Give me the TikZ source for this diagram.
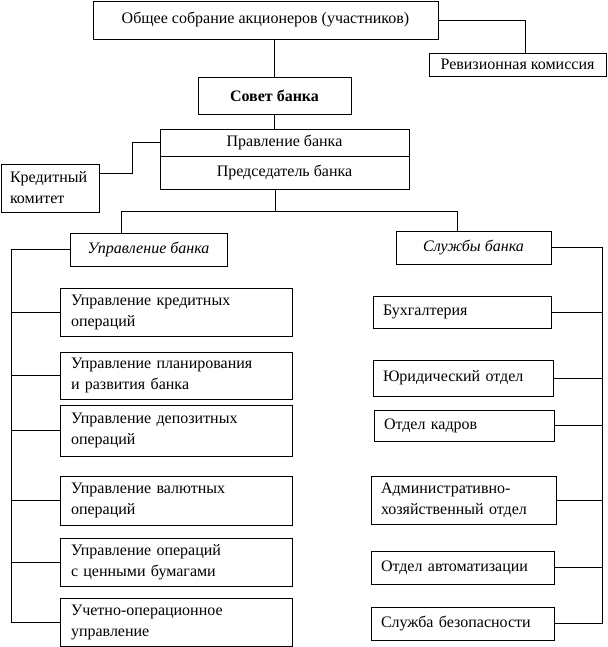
\documentclass[tikz,border=0pt]{standalone}
\usepackage{fontspec}
\setmainfont{Liberation Serif}
\begin{document}
\begin{tikzpicture}[x=1pt,y=-1pt,
    box/.style={draw, line width=0.8pt, inner sep=0pt, font=\fontsize{16}{21}\selectfont},
    cbox/.style={box, align=center},
    lbox/.style={box, align=left, inner xsep=11pt, text width=210pt, minimum height=48pt},
    rbox/.style={box, align=left, inner xsep=10pt, minimum height=33pt},
    link/.style={line width=0.8pt}]
    \useasboundingbox (0,0) rectangle (607,647);
    % top of the hierarchy
    \node[cbox, minimum width=345pt, minimum height=38pt] (sobr) at (265.5,20) {Общее собрание акционеров (участников)};
    \node[cbox, minimum width=177pt, minimum height=23pt] (rev) at (517.5,64.5) {Ревизионная комиссия};
    \node[cbox, minimum width=153pt, minimum height=37pt, font=\fontsize{16}{21}\selectfont\bfseries] (sovet) at (274.5,95.5) {Совет банка};
    \node[cbox, minimum width=249pt, minimum height=27pt] (pravl) at (284.5,142.5) {Правление банка};
    \node[cbox, minimum width=249pt, minimum height=33pt] (pred) at (284.5,172.5) {Председатель банка};
    \node[box, align=left, inner xsep=9pt, text width=80pt, minimum height=48pt] (kredit) at (50,188) {Кредитный\\комитет};
    % two branches
    \node[cbox, minimum width=157pt, minimum height=33pt, font=\fontsize{16}{21}\selectfont\itshape] (upr) at (148.5,249.5) {Управление банка};
    \node[cbox, minimum width=155pt, minimum height=33pt, font=\fontsize{16}{21}\selectfont\itshape] (sluzh) at (473.5,247.5) {Службы банка};
    % departments (left)
    \node[lbox] (u1) at (176,312) {Управление кредитных\\операций};
    \node[lbox, minimum height=47pt] (u2) at (176,375.5) {Управление планирования\\и развития банка};
    \node[lbox, minimum height=51pt] (u3) at (176,430.5) {Управление депозитных\\операций};
    \node[lbox, minimum height=49pt] (u4) at (176,500.5) {Управление валютных\\операций};
    \node[lbox] (u5) at (176,562) {Управление операций\\с ценными бумагами};
    \node[lbox] (u6) at (176,622) {Учетно-операционное\\управление};
    % services (right)
    \node[rbox, text width=158pt, minimum height=32pt] (s1) at (462,312) {Бухгалтерия};
    \node[rbox, text width=160pt, minimum height=36pt] (s2) at (463,378) {Юридический отдел};
    \node[rbox, text width=160pt, minimum height=31pt] (s3) at (464,425.5) {Отдел кадров};
    \node[rbox, text width=165pt, minimum height=48pt] (s4) at (463.5,500) {Административно-\\хозяйственный отдел};
    \node[rbox, text width=163pt] (s5) at (462.5,567.5) {Отдел автоматизации};
    \node[rbox, text width=163pt] (s6) at (462.5,623.5) {Служба безопасности};
    % connectors
    \coordinate (fork) at (275,211);
    \coordinate (barL) at (121,211);
    \coordinate (barR) at (457,211);
    \coordinate (spineL) at (11,0);
    \coordinate (spineR) at (602,0);
    \draw[link] (sobr.east) -| ([xshift=8pt]rev.north);
    \draw[link] (sovet.north) -- (sovet.north |- sobr.south);
    \draw[link] (sovet.south) -- (sovet.south |- pravl.north);
    \draw[link] ([yshift=15pt]kredit.east) -- ++(33,0) |- (pravl.west);
    \draw[link] (fork |- pred.south) -- (fork);
    \draw[link] (barL) -- (barR);
    \draw[link] (barL) -- (barL |- upr.north);
    \draw[link] (barR) -- (barR |- sluzh.north);
    \draw[link] (upr.west) -- (upr.west -| spineL) -- (spineL |- u6.west) -- (u6.west);
    \foreach \n in {u1,u2,u3,u4,u5}
        \draw[link] (\n.west) -- (\n.west -| spineL);
    \draw[link] (sluzh.east) -- (sluzh.east -| spineR) -- (spineR |- s6.east) -- (s6.east);
    \foreach \n in {s1,s2,s3,s4,s5}
        \draw[link] (\n.east) -- (\n.east -| spineR);
\end{tikzpicture}
\end{document}
